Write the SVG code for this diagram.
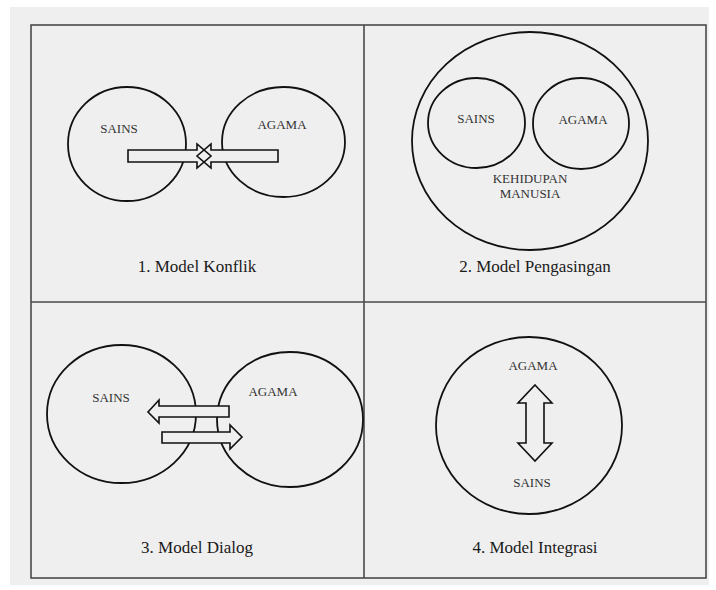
<svg xmlns="http://www.w3.org/2000/svg" width="716" height="590" viewBox="0 0 716 590">
<style>
.frame{fill:none;stroke:#4a4a4a;stroke-width:1.6}
.c{fill:none;stroke:#111;stroke-width:1.8}
.ar{fill:#efefef;stroke:#111;stroke-width:1.6;stroke-linejoin:miter}
.lbl{font-size:13px;fill:#333;text-anchor:middle}
.ttl{font-size:17px;fill:#1a1a1a;text-anchor:middle}
</style>
<rect x="0" y="0" width="716" height="590" fill="#ffffff"/>
<rect x="10" y="7" width="699" height="578" fill="#efefef"/>
<g id="frame">
<rect class="frame" x="31" y="25" width="675" height="553"/>
<line class="frame" x1="364" y1="25" x2="364" y2="578"/>
<line class="frame" x1="31" y1="302" x2="706" y2="302"/>
</g>
<g font-family="Liberation Serif, Times New Roman, DejaVu Serif, serif">
<g id="panel1">
<g id="p1-sains"><ellipse class="c" cx="127" cy="144" rx="59" ry="57"/><text class="lbl" x="119" y="133">SAINS</text></g>
<g id="p1-agama"><ellipse class="c" cx="283.5" cy="142" rx="61.5" ry="55"/><text class="lbl" x="282" y="129">AGAMA</text></g>
<text class="ttl" x="197" y="272">1. Model Konflik</text>
</g>
<g id="panel2">
<g id="p2-kehidupan"><ellipse class="c" cx="530" cy="141" rx="118" ry="109"/><text class="lbl" x="530" y="183">KEHIDUPAN</text><text class="lbl" x="530" y="198">MANUSIA</text></g>
<g id="p2-sains"><ellipse class="c" cx="476.5" cy="123" rx="48.5" ry="45"/><text class="lbl" x="476" y="123">SAINS</text></g>
<g id="p2-agama"><ellipse class="c" cx="581" cy="123.5" rx="48" ry="45.5"/><text class="lbl" x="583" y="124">AGAMA</text></g>
<text class="ttl" x="535" y="272">2. Model Pengasingan</text>
</g>
<g id="panel3">
<g id="p3-sains"><ellipse class="c" cx="121.5" cy="414" rx="74.5" ry="69"/><text class="lbl" x="111" y="402">SAINS</text></g>
<g id="p3-agama"><ellipse class="c" cx="290" cy="419.5" rx="73" ry="67.5"/><text class="lbl" x="273" y="396">AGAMA</text></g>
<text class="ttl" x="197" y="553">3. Model Dialog</text>
</g>
<g id="panel4">
<g id="p4-circle"><ellipse class="c" cx="529" cy="425.5" rx="93" ry="88.5"/></g>
<g id="p4-agama"><text class="lbl" x="533" y="370">AGAMA</text></g>
<g id="p4-sains"><text class="lbl" x="532" y="487">SAINS</text></g>
<text class="ttl" x="535" y="553">4. Model Integrasi</text>
</g>
</g>
<g id="connectors">
<g id="konflik-arrows">
<polygon fill="#efefef" points="128,150 197,150 197,144 211,156 197,168 197,162 128,162"/>
<polygon fill="#efefef" points="278,150 211,150 211,144 197,156 211,168 211,162 278,162"/>
<polygon class="ar" style="fill:none" points="128,150 197,150 197,144 211,156 197,168 197,162 128,162"/>
<polygon class="ar" style="fill:none" points="278,150 211,150 211,144 197,156 211,168 211,162 278,162"/>
</g>
<polygon class="ar" points="229,406 159,406 159,400 148,412 159,423 159,417 229,417"/>
<polygon class="ar" points="162,432 230,432 230,425 242,437 230,449 230,443 162,443"/>
<polygon class="ar" points="535,385 552,403 544,403 544,443 552,443 535,461 518,443 526,443 526,403 518,403"/>
</g>
</svg>
